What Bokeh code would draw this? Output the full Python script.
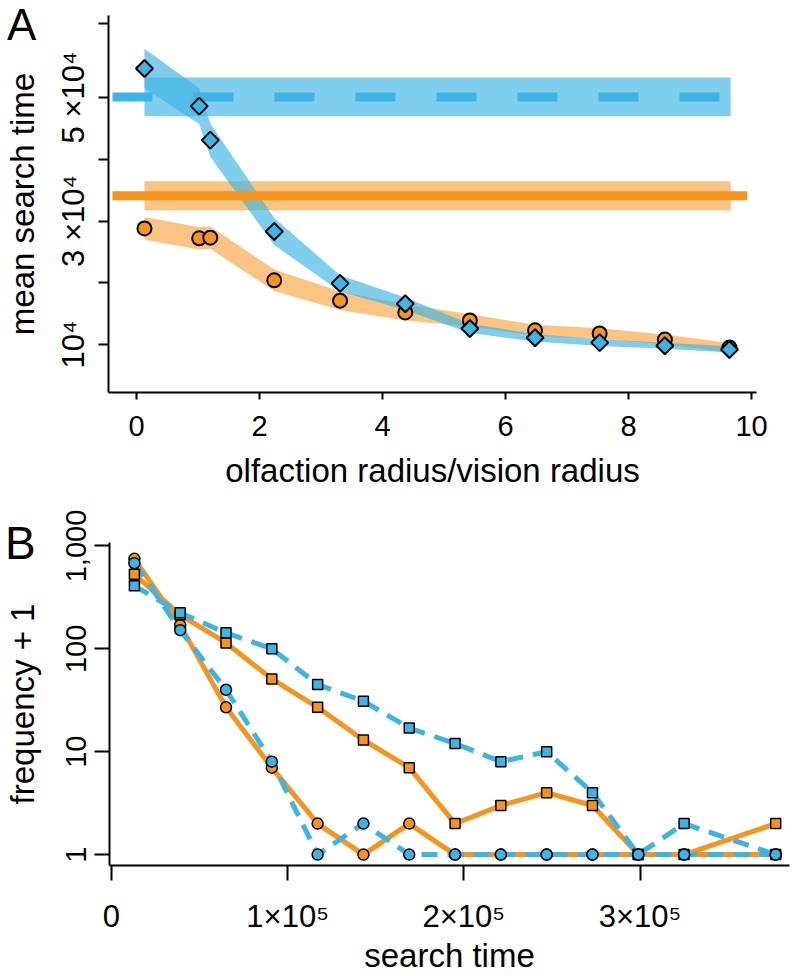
import numpy as np
from bokeh.plotting import figure
from bokeh.models import FixedTicker, Range1d, GridBox, Div
from bokeh.embed import file_html
from bokeh.resources import INLINE

# ---------------- Panel A data ----------------
ratio = [0.13, 1.02, 1.2, 2.24, 3.31, 4.37, 5.42, 6.48, 7.53, 8.59, 9.64]
vision_mean = [54700, 48600, 43100, 28300, 19900, 16600, 12600, 11100, 10300, 9800, 9200]
vision_se = [3200, 2900, 2700, 2200, 1300, 1000, 750, 600, 550, 500, 500]
olfaction_mean = [28800, 27200, 27300, 20400, 17100, 15200, 13900, 12300, 11800, 10800, 9500]
olfaction_se = [1850, 1800, 1800, 1750, 1500, 1300, 1000, 900, 850, 800, 750]
ref_vision_mean = 50100
ref_vision_se = 3150
ref_olfaction_mean = 34100
ref_olfaction_se = 2350
ref_band_x = [0.13, 9.66]
ref_line_x = [-0.39, 9.93]
a_xticks = [0, 2, 4, 6, 8, 10]
a_yticks = [10000, 20000, 30000, 40000, 50000, 62000]
a_ylabels = {10000: "10\u2074", 20000: "", 30000: "3 \u00d710\u2074", 40000: "", 50000: "5 \u00d710\u2074", 62000: ""}

# ---------------- Panel B data ----------------
search_time = [13000, 39000, 65000, 91000, 117000, 143000, 169000, 195000, 221000, 247000, 273000, 299000, 325000, 377000]
blue_squares = [410, 224, 143, 100, 45, 31, 17, 12, 8, 10, 4, 1, 2, 1]
orange_squares = [530, 214, 114, 51, 27, 13, 7, 2, 3, 4, 3, 1, 1, 2]
orange_circles = [750, 170, 27, 7, 2, 1, 2, 1, 1, 1, 1, 1, 1, 1]
blue_circles = [680, 152, 40, 8, 1, 2, 1, 1, 1, 1, 1, 1, 1, 1]
b_xticks = [0, 100000, 200000, 300000]
b_xlabels = {0: "0", 100000: "1\u00d710\u2075", 200000: "2\u00d710\u2075", 300000: "3\u00d710\u2075"}
b_yticks = [1, 10, 100, 1000]
b_ylabels = {1: "1", 10: "10", 100: "100", 1000: "1,000"}
panel_letters = ["A", "B"]

BLUE = "#3cb4e5"
ORANGE = "#f7941d"
FONT = "Liberation Sans"


def style_axes(p, xtick_font, ytick_font, label_font, xout, yout, xstand, ystand, xls, yls):
    for ax in (p.xaxis, p.yaxis):
        ax.axis_line_width = 2
        ax.axis_line_color = "black"
        ax.major_tick_line_width = 2
        ax.major_tick_line_color = "black"
        ax.major_tick_in = 0
        ax.minor_tick_line_color = None
        ax.major_label_text_font = FONT
        ax.major_label_text_color = "black"
        ax.axis_label_text_font = FONT
        ax.axis_label_text_font_size = label_font
        ax.axis_label_text_font_style = "normal"
        ax.axis_label_text_color = "black"
    p.xaxis.major_label_text_font_size = xtick_font
    p.yaxis.major_label_text_font_size = ytick_font
    p.xaxis.major_tick_out = xout
    p.yaxis.major_tick_out = yout
    p.xaxis.major_label_standoff = xstand
    p.yaxis.major_label_standoff = ystand
    p.xaxis.axis_label_standoff = xls
    p.yaxis.axis_label_standoff = yls
    p.yaxis.major_label_orientation = "vertical"
    p.xgrid.visible = False
    p.ygrid.visible = False
    p.outline_line_color = None


def letter_div(text, size, line_height, left, top):
    html = ('<div style="position:relative; z-index:10; left:%dpx; top:%dpx; '
            'font-family:\'Liberation Sans\'; font-size:%dpx; line-height:%dpx; color:black;">%s</div>'
            % (left, top, size, line_height, text))
    return Div(text=html, width=70, height=70)


# ---------------- Panel A ----------------
pA = figure(width=796, height=498, output_backend="svg", toolbar_location=None,
            x_range=Range1d(-0.4545, 10.08), y_range=Range1d(2227, 63280),
            min_border_left=107, min_border_right=40, min_border_top=15, min_border_bottom=106,
            x_axis_label="olfaction radius/vision radius", y_axis_label="mean search time")
style_axes(pA, "29px", "31px", "33px", 7, 10, 16, 7, 13, 13)
pA.xaxis.ticker = FixedTicker(ticks=a_xticks)
pA.yaxis.ticker = FixedTicker(ticks=a_yticks)
pA.yaxis.major_label_overrides = a_ylabels

pA.varea(x=ref_band_x, y1=[ref_vision_mean - ref_vision_se] * 2, y2=[ref_vision_mean + ref_vision_se] * 2,
         fill_color=BLUE, fill_alpha=0.66)
pA.varea(x=ref_band_x, y1=[ref_olfaction_mean - ref_olfaction_se] * 2, y2=[ref_olfaction_mean + ref_olfaction_se] * 2,
         fill_color=ORANGE, fill_alpha=0.55)
olo = [m - s for m, s in zip(olfaction_mean, olfaction_se)]
ohi = [m + s for m, s in zip(olfaction_mean, olfaction_se)]
vlo = [m - s for m, s in zip(vision_mean, vision_se)]
vhi = [m + s for m, s in zip(vision_mean, vision_se)]
pA.varea(x=ratio, y1=olo, y2=ohi, fill_color=ORANGE, fill_alpha=0.55)
pA.varea(x=ratio, y1=vlo, y2=vhi, fill_color=BLUE, fill_alpha=0.66)
pA.line(ref_line_x, [ref_vision_mean] * 2, line_color=BLUE, line_width=9, line_dash="40 41")
pA.line(ref_line_x, [ref_olfaction_mean] * 2, line_color=ORANGE, line_width=9)
pA.scatter(ratio, olfaction_mean, marker="circle", size=14, fill_color=ORANGE, line_color="black", line_width=2)
pA.scatter(ratio, vision_mean, marker="square", angle=np.pi / 4, size=12, fill_color=BLUE,
           line_color="black", line_width=2)

# ---------------- Panel B ----------------
pB = figure(width=796, height=478, output_backend="svg", toolbar_location=None,
            y_axis_type="log",
            x_range=Range1d(-1130, 384830), y_range=Range1d(0.783, 1081),
            min_border_left=107, min_border_right=7, min_border_top=44, min_border_bottom=109,
            x_axis_label="search time", y_axis_label="frequency + 1")
style_axes(pB, "31px", "29px", "33px", 15, 15, 18, 8, 0, 23)
pB.xaxis.ticker = FixedTicker(ticks=b_xticks)
pB.xaxis.major_label_overrides = b_xlabels
pB.yaxis.ticker = FixedTicker(ticks=b_yticks)
pB.yaxis.major_label_overrides = b_ylabels

pB.line(search_time, orange_circles, line_color=ORANGE, line_width=5, line_join="round")
pB.line(search_time, orange_squares, line_color=ORANGE, line_width=5, line_join="round")
pB.line(search_time, blue_circles, line_color=BLUE, line_width=5, line_dash="16 10")
pB.line(search_time, blue_squares, line_color=BLUE, line_width=5, line_dash="16 10")
pB.scatter(search_time, orange_circles, marker="circle", size=11, fill_color=ORANGE, line_color="black", line_width=1.5)
pB.scatter(search_time, orange_squares, marker="square", size=10, fill_color=ORANGE, line_color="black", line_width=1.5)
pB.scatter(search_time, blue_squares, marker="square", size=10, fill_color=BLUE, line_color="black", line_width=1.5)
pB.scatter(search_time, blue_circles, marker="circle", size=11, fill_color=BLUE, line_color="black", line_width=1.5)

rootA = GridBox(children=[(pA, 0, 0), (letter_div(panel_letters[0], 44, 40, 2, 0), 0, 0)], spacing=0)
rootB = GridBox(children=[(pB, 0, 0), (letter_div(panel_letters[1], 46, 46, 0, 17), 0, 0)], spacing=0)
open("out.html", "w").write(file_html([rootA, rootB], INLINE))
